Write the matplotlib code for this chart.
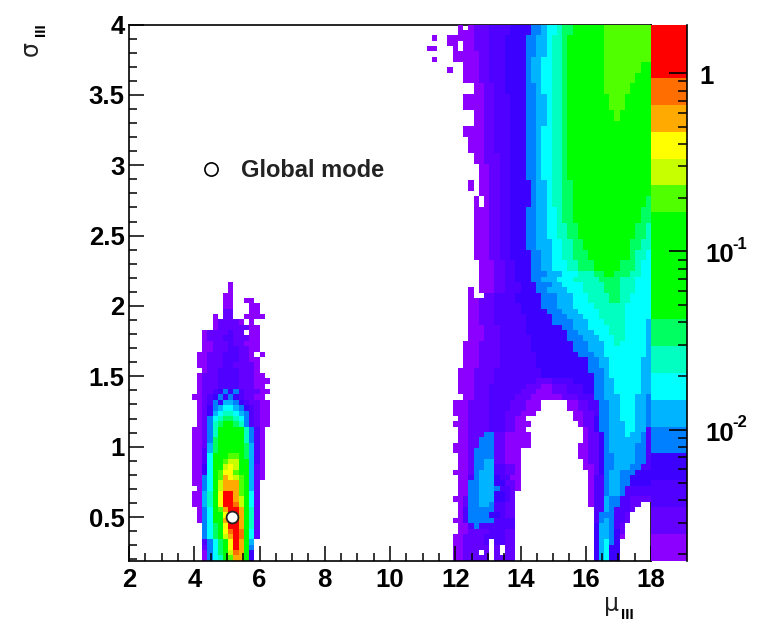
import numpy as np
import matplotlib
matplotlib.use("Agg")
import matplotlib.pyplot as plt
from matplotlib.colors import ListedColormap, BoundaryNorm
from matplotlib.ticker import MultipleLocator, FixedLocator, NullFormatter

plt.rcParams['font.family'] = ['Liberation Sans', 'DejaVu Sans']
plt.rcParams['font.weight'] = 'bold'

# colour levels, bottom to top of the palette
level_colors = ["#8c00ff", "#6400ff", "#5000ff", "#3c00ff", "#0080ff", "#00b4ff", "#00ffff",
                "#00ffc0", "#00ff60", "#00ff00", "#00ff00", "#00ff00", "#00ff00", "#50ff00",
                "#c8ff00", "#ffff00", "#ffaa00", "#ff6e00", "#ff0000", "#ff0000"]
level_chars = "0123456789abcdefghij"
z_min = 10 ** -2.736
z_max = 1.88

mode_mu = 5.16
mode_sigma = 0.5
legend_mu = 4.515
legend_sigma = 2.97

# left peak, one string per bin row from the bottom, first char is bin column 11
peak_rows = [
    "...0467adgga3...", "...0468aehgb3...", "...1468afigb4...", "...2468bfjgb5...",
    "...468aegjhb61..", "...468bfhjhc61..", "...468bfijgc71..", "..0469cgjjgc71..",
    "..0469cfjjgc71..", "..0469dgjjgc71..", ".00579fjjhe961..", ".00579fjjge961..",
    ".00579fjigd961..", "..0469egggd951..", ".00469egggd951..", ".00469dgfed9510.",
    ".00369dffdc9510.", ".00369cefec9510.", ".00269cdeec9520.", ".00269bcddb8520.",
    ".00258bcccb8520.", ".00158bbcbb8520.", ".00148abbba7420.", ".001479bbb97420.",
    ".001479aaa97420.", "..01478998742100", "..01467887642100", "..01356776542100",
    "..01345665432100", "..01243554321100", ".00123434321100.", "..01123434211100",
    "..0111222211100.", "..01112222111000", "..0111222211100.", "...01122221110..",
    "..001112211110..", "..001112221100..", "..00111222110.0.", "...00111221100..",
    "...00111211000..", "...01112211100..", "...01111211.00..", ".....011111100..",
    ".....011110.0...", ".....0.11..0000.", ".......11...00..", ".......00...00..",
    ".......00..00...", ".......00.......", "........0.......", "........0.......",
]

# right structure: (top row, bottom row, "column:level ...")
right_rows = [
    (99, 99, "63:0 64:. 65:0 66:1 69:2 73:3 77:4 79:5 80:6 82:7 83:8 85:c 91:d"),
    (98, 98, "63:0 66:1 69:2 73:3 77:4 79:5 80:6 82:7 83:8 85:c 91:d"),
    (97, 97, "58:0 59:. 61:0 66:1 69:2 72:3 76:4 78:5 80:6 81:7 83:8 84:c 91:d"),
    (96, 96, "61:0 63:. 64:0 66:1 69:2 72:3 76:4 78:5 80:6 81:7 83:8 84:c 91:d"),
    (95, 95, "57:0 59:. 62:0 63:. 64:0 66:1 69:2 72:3 76:4 78:5 80:6 81:7 83:8 84:c 91:d"),
    (94, 94, "62:0 64:0 67:1 69:2 72:3 76:4 78:5 80:6 81:7 83:8 84:c 91:d"),
    (93, 93, "58:0 59:. 62:0 67:1 69:2 72:3 76:4 77:5 79:6 81:7 83:8 84:c 91:d"),
    (92, 92, "64:0 67:1 69:2 72:3 76:4 77:5 79:6 81:7 83:8 84:c 91:d 98:c"),
    (91, 91, "61:0 62:. 64:0 67:1 69:2 72:3 76:4 77:5 79:6 81:7 83:8 84:c 91:d 98:c"),
    (90, 89, "64:0 67:1 69:2 72:3 76:4 77:5 79:6 81:7 83:8 84:c 91:d 97:c"),
    (88, 87, "66:0 68:1 70:2 72:3 76:4 78:5 79:6 81:7 83:8 84:c 91:d 96:c"),
    (86, 84, "64:0 68:1 70:2 73:3 76:4 78:5 80:6 81:7 83:8 84:c 92:d 95:c"),
    (83, 82, "66:0 68:1 70:2 73:3 76:4 78:5 80:6 81:7 83:8 84:c 93:d 94:c"),
    (81, 81, "66:0 68:1 70:2 73:3 76:4 78:5 80:6 81:7 83:8 84:c"),
    (80, 79, "64:0 66:. 66:0 68:1 70:2 73:3 76:4 78:5 79:6 81:7 83:8 84:c"),
    (78, 76, "65:0 68:1 70:2 73:3 76:4 78:5 79:6 81:7 83:8 84:c"),
    (75, 74, "66:0 68:1 71:2 73:3 76:4 78:5 79:6 81:7 83:8 84:c"),
    (73, 71, "67:0 69:1 71:2 73:3 76:4 78:5 79:6 81:7 83:8 84:c"),
    (70, 69, "65:0 66:. 67:0 69:1 71:2 73:3 77:4 78:5 80:6 81:7 83:8 85:c"),
    (68, 68, "67:0 69:1 71:2 73:3 77:4 78:5 80:6 81:7 83:8 85:c"),
    (67, 66, "66:0 67:. 68:0 69:1 71:2 73:3 77:4 78:5 80:6 81:7 83:8 85:c 99:8"),
    (65, 63, "66:0 69:1 71:2 73:3 76:4 78:5 80:6 82:7 83:8 85:c 98:8"),
    (62, 60, "66:0 69:1 71:2 73:3 76:4 78:5 80:6 82:7 84:8 86:c 97:8 99:7"),
    (59, 58, "66:0 69:1 71:2 73:3 76:4 78:5 81:6 83:7 85:8 87:c 96:8 98:7"),
    (57, 56, "66:0 69:1 71:2 73:3 77:4 79:5 81:6 83:7 85:8 88:c 96:8 97:7 99:6"),
    (55, 54, "67:0 70:1 72:2 74:3 77:4 79:5 81:6 84:7 86:8 89:c 94:8 97:7 98:6"),
    (53, 53, "67:0 70:1 72:2 74:3 77:4 80:5 83:6 86:7 89:8 91:c 93:8 96:7 98:6"),
    (52, 52, "67:0 70:1 72:2 74:3 77:4 79:5 82:6 85:7 90:8 94:7 97:6"),
    (51, 51, "67:0 70:1 72:2 75:3 78:4 81:5 83:6 87:7 91:8 94:7 97:6"),
    (50, 50, "65:0 66:. 67:0 70:1 72:2 75:3 78:4 80:5 84:6 87:7 91:8 94:7 97:6"),
    (49, 49, "65:0 66:. 68:1 70:2 74:3 79:4 82:5 85:6 88:7 92:8 94:7 96:6"),
    (48, 48, "65:0 67:1 70:2 74:3 79:4 82:5 85:6 88:7 92:8 94:7 96:6"),
    (47, 47, "65:0 67:1 70:2 75:3 79:4 82:5 85:6 89:7 95:6"),
    (46, 46, "65:0 67:1 70:2 75:3 80:4 83:5 86:6 90:7 95:6"),
    (45, 45, "65:0 67:1 70:2 76:3 81:4 84:5 87:6 90:7 95:6"),
    (44, 44, "65:0 67:1 70:2 76:3 81:4 85:5 88:6 91:7 95:6 99:5"),
    (43, 43, "65:0 68:1 71:2 76:3 83:4 85:5 88:6 92:7 95:6 99:5"),
    (42, 42, "65:0 68:1 71:2 76:3 84:4 86:5 89:6 92:7 95:6 99:5"),
    (41, 41, "65:0 68:1 71:2 77:3 84:4 87:5 90:6 93:7 95:6 99:5"),
    (40, 40, "64:0 67:1 71:2 77:3 85:4 88:5 91:6 93:7 94:6 99:5"),
    (39, 39, "64:0 67:1 71:2 77:3 85:4 88:5 91:6 99:5"),
    (38, 38, "64:0 67:1 71:2 78:3 86:4 89:5 91:6 99:5"),
    (37, 36, "64:0 67:1 71:2 78:3 88:4 90:5 92:6 98:5"),
    (35, 35, "63:0 66:1 70:2 79:3 88:4 91:5 92:6 98:5"),
    (34, 34, "63:0 66:1 70:2 79:3 89:4 91:5 92:6 98:5"),
    (33, 33, "63:0 66:1 70:2 78:1 81:2 85:3 89:4 91:5 93:6 98:5"),
    (32, 32, "63:0 66:1 69:2 76:1 79:0 81:1 84:2 87:3 89:4 91:5 93:6 98:5"),
    (31, 31, "63:0 66:1 69:2 75:1 78:0 81:1 84:2 87:3 89:4 91:5 93:6 98:5"),
    (30, 30, "64:0 66:1 69:2 74:1 77:0 83:1 86:2 89:4 91:5 94:6 97:5 99:4"),
    (29, 28, "62:0 65:1 69:2 73:1 76:0 79:. 84:0 86:1 88:2 90:4 92:5 94:6 97:5 99:4"),
    (27, 27, "62:0 65:1 69:2 72:1 75:0 78:. 85:0 87:1 89:2 90:4 92:5 94:6 97:5 99:4"),
    (26, 26, "63:0 65:1 69:2 72:1 74:0 76:. 85:0 87:1 89:3 90:4 92:5 94:6 97:5 99:4"),
    (25, 25, "62:0 65:1 69:2 72:1 74:0 77:. 86:0 87:1 89:3 90:4 92:5 95:6 97:5 99:4"),
    (24, 24, "63:0 65:1 69:2 72:1 74:0 76:. 87:0 88:1 89:3 90:4 92:5 95:6 97:5 99:2"),
    (23, 23, "63:0 65:1 68:4 70:1 72:0 77:. 87:0 88:1 90:3 91:4 92:5 95:6 96:5 98:4 99:2"),
    (22, 22, "63:0 65:1 67:4 70:1 72:0 77:. 87:0 88:1 90:3 91:4 92:5 98:4 99:2"),
    (21, 21, "62:0 65:1 67:4 70:1 72:0 77:. 86:0 88:1 90:3 91:4 92:5 97:4 99:2"),
    (20, 20, "62:0 65:1 66:4 70:1 72:0 75:. 86:0 88:1 90:3 91:4 92:5 97:4 99:2"),
    (19, 19, "63:0 65:1 66:4 70:1 72:0 75:. 86:0 88:1 90:3 91:4 93:5 97:4 99:2"),
    (18, 18, "63:0 65:1 66:4 68:5 70:1 72:0 75:. 87:0 88:1 90:3 91:4 93:5 97:4 99:2"),
    (17, 17, "63:0 65:1 66:4 68:5 70:2 72:1 74:0 75:. 87:0 89:1 90:3 91:4 93:5 96:4 98:2"),
    (16, 16, "62:0 65:1 66:4 67:5 70:2 72:1 74:0 75:. 88:0 89:1 90:3 91:4 92:5 94:4 97:3"),
    (15, 15, "63:0 65:2 66:4 67:5 70:3 71:2 73:0 75:. 88:0 89:2 91:4 92:5 94:4 96:3"),
    (14, 14, "63:0 65:4 67:5 70:3 72:1 74:0 75:. 88:0 89:2 91:4 92:5 94:4 96:3"),
    (13, 13, "63:0 65:4 67:5 70:4 71:2 73:1 74:0 75:. 88:0 89:2 91:4 92:5 94:4 95:2"),
    (12, 12, "63:0 65:4 67:5 70:3 72:2 73:1 74:. 88:0 89:2 91:4 92:5 94:4 95:2"),
    (11, 11, "62:0 64:1 65:4 67:5 70:3 72:2 73:1 74:. 88:0 89:2 91:5 92:4 94:2 96:1"),
    (10, 10, "63:0 64:1 65:4 67:5 69:4 70:2 72:1 74:. 88:0 89:2 91:5 92:4 94:2 96:1 98:."),
    (9, 9, "63:0 64:2 65:4 70:2 72:1 74:. 89:2 91:5 92:4 93:2 96:1 97:."),
    (8, 8, "63:0 64:2 65:4 69:3 71:2 72:1 74:. 89:2 90:4 93:2 95:1 96:."),
    (7, 7, "62:0 64:2 65:4 70:2 74:. 89:2 90:4 91:5 92:4 93:2 95:1 96:."),
    (6, 6, "63:0 65:2 66:4 67:2 74:. 89:3 90:5 92:4 93:2 94:1 95:."),
    (5, 5, "63:0 65:1 69:2 72:1 74:. 89:3 90:5 92:4 93:3 94:1 95:."),
    (4, 4, "62:0 64:1 68:2 72:1 74:. 89:3 90:5 92:4 93:3 94:0 95:."),
    (3, 3, "62:0 64:1 68:2 69:. 70:2 72:1 74:. 89:3 90:5 91:6 92:4 93:3 94:."),
    (2, 2, "62:0 64:1 69:. 70:1 71:. 72:1 74:. 89:3 90:5 91:6 92:3 94:."),
    (1, 1, "62:0 64:1 67:. 68:1 69:. 70:1 71:. 72:1 74:. 89:3 90:5 91:6 92:3 94:."),
    (0, 0, "62:0 64:1 69:. 70:1 74:. 89:3 90:5 91:6 92:3 94:."),
]

# fill the 100 x 100 histogram from the tables
level_grid = np.full((100, 100), -1)
for r, row in enumerate(peak_rows):
    for i, ch in enumerate(row):
        if ch != ".":
            level_grid[r, 11 + i] = level_chars.index(ch)
for top, bottom, text in right_rows:
    parts = [p.split(":") for p in text.split()]
    for k, (col, ch) in enumerate(parts):
        end = int(parts[k + 1][0]) if k + 1 < len(parts) else 100
        if ch != ".":
            level_grid[bottom:top + 1, int(col):end] = level_chars.index(ch)

edges_z = np.logspace(np.log10(z_min), np.log10(z_max), 21)
centers_z = np.sqrt(edges_z[:-1] * edges_z[1:])
z = np.ma.masked_where(level_grid < 0, centers_z[np.clip(level_grid, 0, 19)])
cmap = ListedColormap(level_colors)
norm = BoundaryNorm(edges_z, 20)

W, H = 767, 624
fig = plt.figure(figsize=(W / 100, H / 100), dpi=100)
ax = fig.add_axes([129 / W, 1 - 560.7 / H, (651 - 129) / W, (560.7 - 24.5) / H])
ax.pcolormesh(np.linspace(2, 18, 101), np.linspace(0.19, 4, 101), z, cmap=cmap, norm=norm, zorder=1)
ax.set_xlim(2, 18)
ax.set_ylim(0.19, 4)

for side in ["top", "right"]:
    ax.spines[side].set_zorder(0.5)
for sp in ax.spines.values():
    sp.set_linewidth(1.2)
ax.xaxis.set_major_locator(MultipleLocator(2))
ax.xaxis.set_minor_locator(MultipleLocator(0.5))
ax.yaxis.set_major_locator(MultipleLocator(0.5))
ax.yaxis.set_minor_locator(MultipleLocator(0.1))
ax.tick_params(which="major", direction="in", length=10.5, width=1.1, labelsize=18.5)
ax.tick_params(which="minor", direction="in", length=6, width=1.1)
ax.tick_params(axis="x", which="major", pad=5)
ax.tick_params(axis="y", which="major", pad=3)
ax.set_yticks([0.5, 1, 1.5, 2, 2.5, 3, 3.5, 4])
ax.set_yticklabels(["0.5", "1", "1.5", "2", "2.5", "3", "3.5", "4"])
ax.set_xticks(np.arange(2, 19, 2))

# markers
ax.plot([mode_mu], [mode_sigma], "o", ms=8.5, mfc="white", mec="#222222", mew=1.3, zorder=5)
ax.plot([legend_mu], [legend_sigma], "o", ms=9.5, mfc="white", mec="black", mew=1.2, zorder=5)
ax.text(5.42, 2.965, "Global mode", fontsize=17, va="center", ha="left", color="#222222")

# palette on the right
cax = fig.add_axes([651 / W, 1 - 560.7 / H, 36 / W, (560.7 - 24.5) / H])
cax.pcolormesh([0, 1], edges_z, centers_z[:, None], cmap=cmap, norm=norm)
cax.set_yscale("log")
cax.set_ylim(z_min, z_max)
cax.set_xlim(0, 1)
cax.set_xticks([])
for side in ["left", "top", "bottom"]:
    cax.spines[side].set_visible(False)
cax.spines["right"].set_linewidth(1.2)
cax.yaxis.tick_right()
cax.yaxis.set_major_locator(FixedLocator([0.01, 0.1, 1]))
cax.yaxis.set_major_formatter(NullFormatter())
minor_vals = [m * d for d in (0.001, 0.01, 0.1, 1) for m in range(2, 10) if z_min < m * d < z_max]
cax.yaxis.set_minor_locator(FixedLocator(minor_vals))
cax.yaxis.set_minor_formatter(NullFormatter())
cax.tick_params(which="major", direction="in", length=13, width=1.2)
cax.tick_params(which="minor", direction="in", length=6.5, width=1.1)

trans = cax.get_yaxis_transform()
cax.text(1.33, 0.95, "1", transform=trans, fontsize=18.5, va="center", ha="left", clip_on=False)
for val, exp in [(0.1, "-1"), (0.01, "-2")]:
    cax.text(1.5, val * 0.95, "10", transform=trans, fontsize=18.5, va="center", ha="left", clip_on=False)
    cax.text(2.27, val * 1.1, exp, transform=trans, fontsize=12, va="center", ha="left", clip_on=False)

# axis titles
fig.text(612 / W, 1 - 604 / H, "\u03bc", fontsize=17, ha="center", va="center", color="#222222",
         family=["DejaVu Sans"], fontweight="normal")
fig.text(627 / W, 1 - 615 / H, "III", fontsize=11, ha="center", va="center")
fig.text(31 / W, 1 - 49 / H, "\u03c3", fontsize=17, ha="center", va="center", rotation=90, color="#222222",
         family=["DejaVu Sans"], fontweight="normal")
fig.text(41 / W, 1 - 30 / H, "III", fontsize=11, ha="center", va="center", rotation=90)

fig.savefig("out.png", dpi=100)
